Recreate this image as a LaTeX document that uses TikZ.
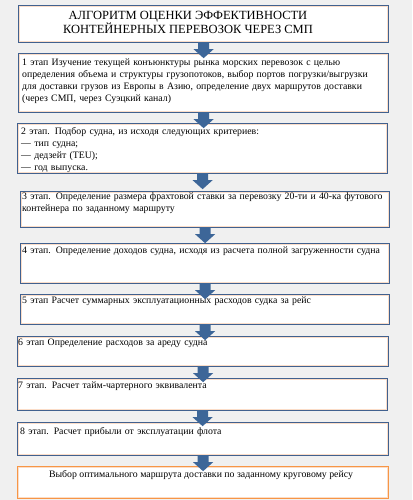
\documentclass[tikz,border=0pt]{standalone}
\usepackage{fontspec}
\setmainfont{Liberation Serif}
\usetikzlibrary{calc}
\definecolor{bgc}{HTML}{F0F0F0}
\definecolor{bordc}{HTML}{41618F}
\definecolor{arrc}{HTML}{3D6698}
\definecolor{peachc}{HTML}{FBDDC8}
\definecolor{orangec}{HTML}{F79646}
\definecolor{shadc}{HTML}{C8C8C8}
\tikzset{
  box/.style={draw=bordc, line width=2.2pt, fill=white, anchor=north west, inner sep=0pt},
  finalbox/.style={box, draw=orangec},
  txt/.style={anchor=north west, inner sep=0pt, align=left, text width=380pt,
    font=\fontsize{9.8pt}{12pt}\selectfont},
  ttl/.style={inner sep=0pt, align=center, font=\fontsize{12.5pt}{14pt}\selectfont},
  blockarrow/.style={fill=arrc},
}
\newcommand\mkbox[6]{% name, left, top, right, bottom, style
  \fill[shadc] (#2+1.5,#3+1.5) rectangle (#4+1.8,#5+1.8);
  \node[#6, minimum width={(#4-#2)*1pt}, minimum height={(#5-#3)*1pt}] (#1) at (#2,#3) {};
  \draw[peachc, line width=0.9pt] ($(#1.north west)+(1.8,1.8)$) rectangle ($(#1.south east)+(-1.8,-1.8)$);
}
\newcommand\mkarrow[2]{%
  \fill[blockarrow] let \p1=(#1.south) in
    (\x1-5.5pt,\y1+1pt) -- (\x1+5.5pt,\y1+1pt) -- (\x1+5.5pt,\y1-6pt) -- (\x1+10pt,\y1-6pt)
    -- (\x1,\y1-15pt) -- (\x1-10pt,\y1-6pt) -- (\x1-5.5pt,\y1-6pt) -- cycle;
}
\begin{document}
\begin{tikzpicture}[x=1pt,y=-1pt]
\useasboundingbox (0,0) rectangle (412,500);
\fill[bgc] (0,0) rectangle (412,500);
\mkbox{b0}{18}{5}{387}{41}{box}
\mkbox{b1}{18}{53}{387}{111}{box}
\mkbox{b2}{17}{123}{386}{172}{box}
\mkbox{b3}{20}{191}{388}{226}{box}
\mkbox{b4}{20}{243}{388}{282}{box}
\mkbox{b5}{20}{294}{388}{323}{box}
\mkbox{b6}{17}{336}{387}{365}{box}
\mkbox{b7}{17}{378}{386}{409}{box}
\mkbox{b8}{17}{422}{387}{454}{box}
\mkbox{b9}{17}{466}{387}{497}{finalbox}

\node[ttl] (t0) at (188,22.5) {АЛГОРИТМ ОЦЕНКИ ЭФФЕКТИВНОСТИ\\КОНТЕЙНЕРНЫХ ПЕРЕВОЗОК ЧЕРЕЗ СМП};
\node[txt] (t1) at (22,59) {1 этап Изучение текущей конъюнктуры рынка морских перевозок с целью\\
определения объема и структуры грузопотоков, выбор портов погрузки/выгрузки\\
для доставки грузов из Европы в Азию, определение двух маршрутов доставки\\
(через СМП, через Суэцкий канал)};
\node[txt] (t2) at (21,127) {2 этап. Подбор судна, из исходя следующих критериев:\\
— тип судна;\\
— дедзейт (TEU);\\
— год выпуска.};
\node[txt] (t3) at (22,192) {3 этап. Определение размера фрахтовой ставки за перевозку 20-ти и 40-ка футового\\
контейнера по заданному маршруту};
\node[txt] (t4) at (22,247) {4 этап. Определение доходов судна, исходя из расчета полной загруженности судна};
\node[txt] (t5) at (22,297) {5 этап Расчет суммарных эксплуатационных расходов судка за рейс};
\node[txt] (t6) at (18,339) {6 этап Определение расходов за ареду судна};
\node[txt] (t7) at (18,382) {7 этап. Расчет тайм-чартерного эквивалента};
\node[txt] (t8) at (20,427) {8 этап. Расчет прибыли от эксплуатации флота};
\node[inner sep=0pt, font=\fontsize{9.8pt}{12pt}\selectfont] (t9) at (201,475) {Выбор оптимального маршрута доставки по заданному круговому рейсу};

\mkarrow{b0}{b1}
\mkarrow{b1}{b2}
\mkarrow{b2}{b3}
\mkarrow{b3}{b4}
\mkarrow{b4}{b5}
\mkarrow{b5}{b6}
\mkarrow{b6}{b7}
\mkarrow{b7}{b8}
\mkarrow{b8}{b9}
\end{tikzpicture}
\end{document}
